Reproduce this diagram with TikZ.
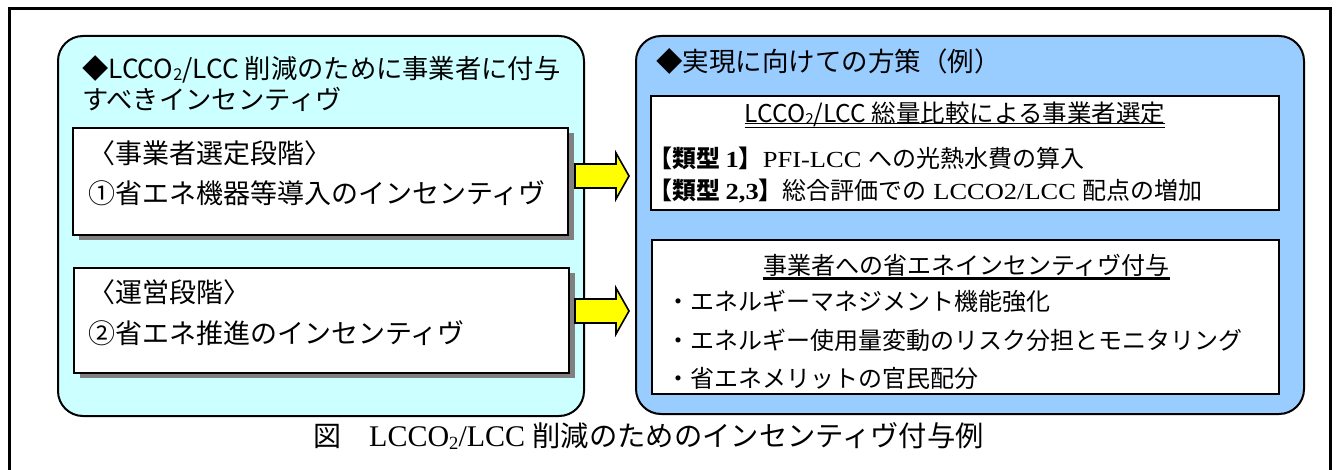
\documentclass[tikz,border=0pt]{standalone}
\usepackage{fontspec}
\setmainfont{Liberation Serif}
\newfontfamily\jp{Noto Sans CJK JP}
\newfontfamily\wideserif{Liberation Serif}[FakeStretch=1.15]
\usetikzlibrary{shadows,calc}
\newcommand\gsize[1]{\fontsize{#1pt}{#1pt}\selectfont}
\newcommand\subtwo{\raisebox{-0.08em}{\scalebox{0.62}{2}}}
\definecolor{lcyan}{HTML}{CCFFFF}
\definecolor{lblue}{HTML}{99CCFF}
\definecolor{arrowyellow}{HTML}{FFFF00}
\definecolor{shadowgray}{HTML}{808080}
\begin{document}
\begin{tikzpicture}[x=1pt,y=-1pt,
  panel/.style={draw=black,line width=2pt,rounded corners=25pt,anchor=north west,inner sep=0pt},
  card/.style={draw=black,line width=1.6pt,fill=white,anchor=north west,inner sep=0pt},
  shadowcard/.style={card,drop shadow={shadow xshift=6pt,shadow yshift=-5pt,fill=shadowgray,opacity=1}},
  gtext/.style={inner sep=0pt,anchor=west,font=\jp\gsize{27}},
  htext/.style={inner sep=0pt,anchor=west,font=\jp\gsize{24.5}},
  mtext/.style={inner sep=0pt,anchor=west,font=\jp\gsize{24}},
  blockarrow/.style={draw=black,line width=1.6pt,fill=arrowyellow,line join=miter},
  uline/.style={line width=1.5pt}]
\useasboundingbox (0,0) rectangle (1337,470);
\fill[white] (0,0) rectangle (1337,470);
% outer frame
\draw[line width=3pt] (9,476) -- (9,9) -- (1330,9) -- (1330,476);

% left panel
\node[panel,fill=lcyan,minimum width=526pt,minimum height=380pt] (left) at (57,35) {};
\node[gtext,font=\jp\gsize{26.3}] (lt1) at (82,69) {◆LCCO\subtwo/LCC 削減のために事業者に付与};
\node[gtext,font=\jp\gsize{26.3}] (lt2) at (82,99) {すべきインセンティヴ};
\node[shadowcard,minimum width=495pt,minimum height=107pt] (c1) at (72,127) {};
\node[gtext] (c1a) at (88,153) {〈事業者選定段階〉};
\node[gtext] (c1b) at (88,193) {①省エネ機器等導入のインセンティヴ};
\node[shadowcard,minimum width=495pt,minimum height=105pt] (c2) at (73,267) {};
\node[gtext] (c2a) at (88,292) {〈運営段階〉};
\node[gtext] (c2b) at (88,333) {②省エネ推進のインセンティヴ};

% arrows
\coordinate (a1) at (575,176);
\coordinate (a2) at (575,311);
\draw[blockarrow] ($(a1)+(0,-12)$) -- ++(41,0) -- ++(0,-11) -- ++(13,23) -- ++(-13,23) -- ++(0,-11) -- ++(-41,0) -- cycle;
\draw[blockarrow] ($(a2)+(0,-12)$) -- ++(41,0) -- ++(0,-11) -- ++(13,23) -- ++(-13,23) -- ++(0,-11) -- ++(-41,0) -- cycle;

% right panel
\node[panel,fill=lblue,minimum width=668pt,minimum height=378pt] (right) at (635,35) {};
\node[gtext,font=\jp\gsize{26.5}] (rt) at (656,61) {◆実現に向けての方策（例）};
\node[card,minimum width=628pt,minimum height=114pt] (r1) at (650,95) {};
\node[htext,anchor=center] (h1) at (955,114) {LCCO\subtwo/LCC 総量比較による事業者選定};
\coordinate (u1) at (0,123.5);
\coordinate (u2) at (0,127.5);
\draw[uline] (h1.west |- u1) -- (h1.east |- u1);
\draw[uline] (h1.west |- u2) -- (h1.east |- u2);
\node[mtext] (t1) at (648,158) {{\bfseries【類型 {\wideserif\gsize{23}\bfseries 1}】}{\wideserif\gsize{23}PFI-LCC }への光熱水費の算入};
\node[mtext] (t2) at (648,191) {{\bfseries【類型 {\wideserif\gsize{23}\bfseries 2,3}】}総合評価での{\wideserif\gsize{23} LCCO2/LCC }配点の増加};

\node[card,minimum width=627pt,minimum height=154pt] (r2) at (651,239) {};
\node[htext,font=\jp\gsize{24}] (h2) at (763,265) {事業者への省エネインセンティヴ付与};
\coordinate (u3) at (0,278.5);
\draw[line width=3pt] (h2.west |- u3) -- (h2.east |- u3);
\node[mtext] (b1) at (666,301) {・エネルギーマネジメント機能強化};
\node[mtext] (b2) at (666,340) {・エネルギー使用量変動のリスク分担とモニタリング};
\node[mtext] (b3) at (666,378) {・省エネメリットの官民配分};

% caption
\node[inner sep=0pt,anchor=west] (cap) at (313,436) {{\jp\gsize{28}図　}{\gsize{30}LCCO\subtwo/LCC }{\jp\gsize{28.3}削減のためのインセンティヴ付与例}};
\end{tikzpicture}
\end{document}
